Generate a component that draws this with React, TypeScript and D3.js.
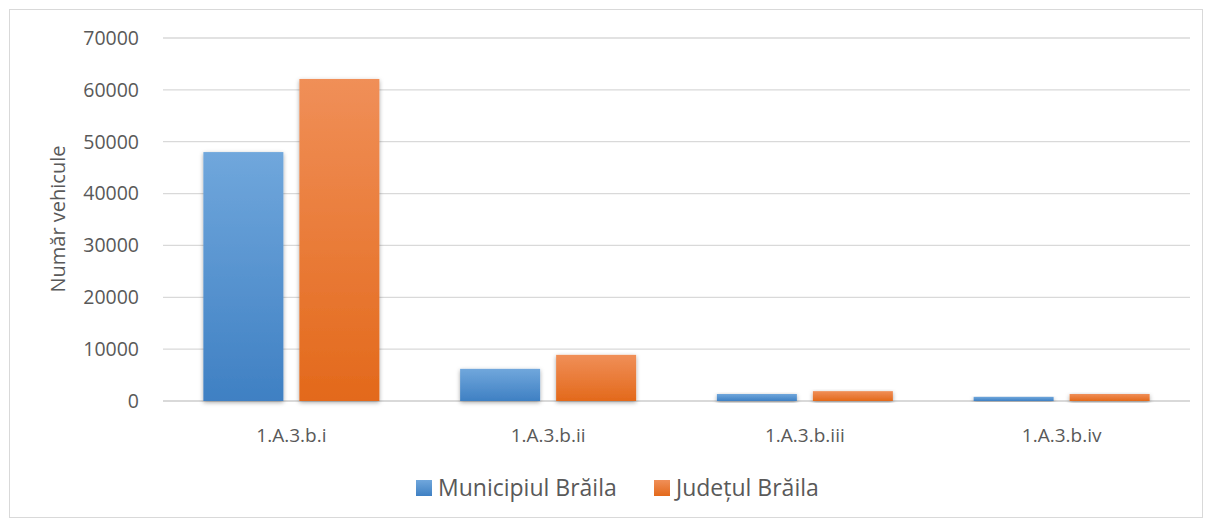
import React, { useEffect, useRef } from "react";
import * as d3 from "d3";

const categories = ["1.A.3.b.i", "1.A.3.b.ii", "1.A.3.b.iii", "1.A.3.b.iv"];
const seriesNames = ["Municipiul Brăila", "Județul Brăila"];
const municipiul = [48000, 6200, 1350, 800];
const judetul = [62100, 8900, 1900, 1350];
const yTicks = [0, 10000, 20000, 30000, 40000, 50000, 60000, 70000];

const W = 1207;
const H = 520;

export default function App() {
  const ref = useRef<SVGSVGElement>(null);

  useEffect(() => {
    const svg = d3.select(ref.current);
    svg.selectAll("*").remove();

    const font = "'Open Sans', 'Noto Sans', sans-serif";
    const defs = svg.append("defs");

    const grads = [
      { id: "gBlue", top: "#70a7dc", bottom: "#3f80c3" },
      { id: "gOrange", top: "#f08f58", bottom: "#e3691b" },
    ];
    grads.forEach((g) => {
      const lg = defs
        .append("linearGradient")
        .attr("id", g.id)
        .attr("x1", 0)
        .attr("y1", 0)
        .attr("x2", 0)
        .attr("y2", 1);
      lg.append("stop").attr("offset", "0%").attr("stop-color", g.top);
      lg.append("stop").attr("offset", "100%").attr("stop-color", g.bottom);
    });
    defs
      .append("filter")
      .attr("id", "shadow")
      .attr("x", "-20%")
      .attr("y", "-20%")
      .attr("width", "140%")
      .attr("height", "140%")
      .append("feDropShadow")
      .attr("dx", 0)
      .attr("dy", 1.5)
      .attr("stdDeviation", 2)
      .attr("flood-color", "#000")
      .attr("flood-opacity", 0.35);

    // outer border
    svg
      .append("rect")
      .attr("x", 9.5)
      .attr("y", 9.5)
      .attr("width", 1193)
      .attr("height", 508)
      .attr("fill", "#fff")
      .attr("stroke", "#d9d9d9")
      .attr("stroke-width", 1);

    const left = 163;
    const right = 1190;
    const top = 38;
    const bottom = 401;

    const x = d3.scaleBand().domain(categories).range([left, right]).padding(0);
    const yScale = d3.scaleLinear().domain([0, 70000]).range([bottom, top]);

    // gridlines
    svg
      .append("g")
      .selectAll("line")
      .data(yTicks)
      .enter()
      .append("line")
      .attr("x1", left)
      .attr("x2", right)
      .attr("y1", (d) => yScale(d))
      .attr("y2", (d) => yScale(d))
      .attr("stroke", "#d9d9d9")
      .attr("stroke-width", (d) => (d === 0 ? 2 : 1.3));

    // y tick labels
    svg
      .append("g")
      .selectAll("text")
      .data(yTicks)
      .enter()
      .append("text")
      .attr("x", 139)
      .attr("y", (d) => yScale(d))
      .attr("dy", "0.35em")
      .attr("text-anchor", "end")
      .attr("font-family", font)
      .attr("font-size", "19.5px")
      .attr("fill", "#595959")
      .text((d) => d);

    // y title
    svg
      .append("text")
      .attr("transform", "translate(58,219) rotate(-90)")
      .attr("dy", "0.35em")
      .attr("text-anchor", "middle")
      .attr("font-family", font)
      .attr("font-size", "20px")
      .attr("fill", "#595959")
      .text("Număr vehicule");

    const barW = 80;
    const gap = 16;
    const series = [
      { values: municipiul, fill: "url(#gBlue)" },
      { values: judetul, fill: "url(#gOrange)" },
    ];

    series.forEach((s, si) => {
      svg
        .append("g")
        .selectAll("rect")
        .data(categories)
        .enter()
        .append("rect")
        .attr("x", (c) => {
          const center = (x(c) as number) + x.bandwidth() / 2;
          return si === 0 ? center - gap / 2 - barW : center + gap / 2;
        })
        .attr("y", (c, i) => yScale(s.values[i]))
        .attr("width", barW)
        .attr("height", (c, i) => bottom - yScale(s.values[i]))
        .attr("fill", s.fill)
        .attr("filter", "url(#shadow)");
    });

    // category labels
    svg
      .append("g")
      .selectAll("text")
      .data(categories)
      .enter()
      .append("text")
      .attr("x", (c) => (x(c) as number) + x.bandwidth() / 2)
      .attr("y", 435)
      .attr("dy", "0.35em")
      .attr("text-anchor", "middle")
      .attr("font-family", font)
      .attr("font-size", "19px")
      .attr("fill", "#595959")
      .text((c) => c);

    // legend
    const legendItems = [
      { name: seriesNames[0], fill: "url(#gBlue)", x: 416 },
      { name: seriesNames[1], fill: "url(#gOrange)", x: 654 },
    ];
    const lg = svg.append("g");
    legendItems.forEach((it) => {
      lg.append("rect")
        .attr("x", it.x)
        .attr("y", 480)
        .attr("width", 16)
        .attr("height", 16)
        .attr("fill", it.fill);
      lg.append("text")
        .attr("x", it.x + 22)
        .attr("y", 488)
        .attr("dy", "0.35em")
        .attr("font-family", font)
        .attr("font-size", "23px")
        .attr("fill", "#595959")
        .text(it.name);
    });
  }, []);

  return (
    <svg
      ref={ref}
      width={W}
      height={H}
      style={{ position: "absolute", left: 0, top: 0 }}
    />
  );
}
